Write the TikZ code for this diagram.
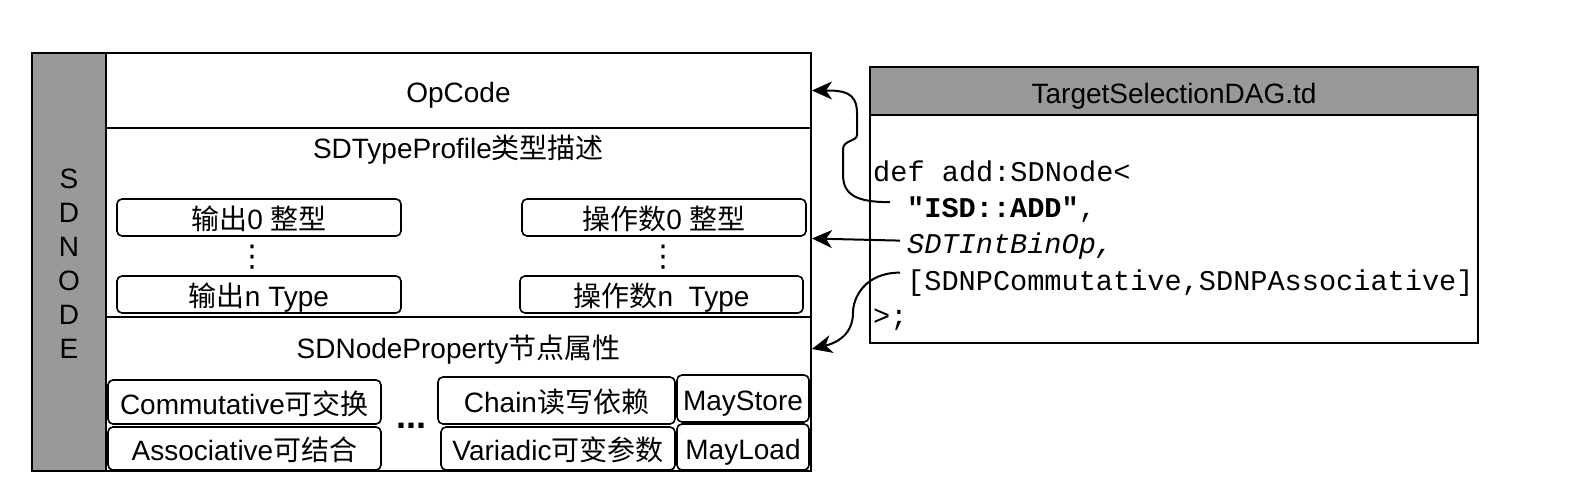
\documentclass[tikz,border=0pt]{standalone}
\usepackage{fontspec}
\setmainfont{Liberation Sans}
\setmonofont{Liberation Mono}
\newfontfamily\zhfont{Noto Sans CJK SC}
\newfontfamily\symfont{DejaVu Sans}
\newcommand{\zhtxt}[1]{{\zhfont #1}}
\usetikzlibrary{positioning,arrows.meta,calc}
\definecolor{headgray}{RGB}{153,153,153}

\begin{document}
\begin{tikzpicture}[
		x=1pt, y=-1pt,
		>={Stealth[length=20pt,width=18pt,inset=6pt]},
		every node/.style={
			inner sep=2pt,
			align=center,
			font=\fontsize{28}{34}\selectfont
		},
		lbl/.style={text height=25pt, text depth=1pt},
		frame/.style={draw, line width=2pt, rectangle},
		tag/.style={draw, rounded corners=5pt, line width=1.6pt, inner sep=1pt, lbl},
		vdotsnode/.style={inner sep=0pt, font=\symfont\fontsize{30}{34}\selectfont},
		code/.style={inner sep=0pt, anchor=base west, align=left,
			font=\ttfamily\fontsize{28.6}{34}\selectfont},
		arr/.style={->, line width=2pt}
		]
		
		\useasboundingbox (0,0) rectangle (1592,498);
		
		%--------------------------------------------------
		% SDNode
		%--------------------------------------------------
		
		\node[frame, fill=headgray, minimum width=74pt, minimum height=418pt] (sdnode) at (69,262)
		{};
		\node (sdnodetext) at (69,264) {S\\D\\N\\O\\D\\E};
		
		\node[frame, lbl, minimum width=705pt, minimum height=75pt] (opcode) at (458.5,90.5)
		{OpCode};
		
		\node[frame, minimum width=705pt, minimum height=189pt] (typeprof) at (458.5,222.5) {};
		
		\node[frame, minimum width=705pt, minimum height=154pt] (nodeprop) at (458.5,394) {};
		
		\node[lbl] (typetitle) at (458.5,146)
		{SDTypeProfile\zhtxt{类型描述}};
		
		\node[lbl] (proptitle) at (458.5,346)
		{SDNodeProperty\zhtxt{节点属性}};
		
		%--------------------------------------------------
		% Type profile
		%--------------------------------------------------
		
		\node[tag, minimum width=284pt, minimum height=37pt] (out0) at (259,217.5)
		{\zhtxt{输出}0 \zhtxt{整型}};
		
		\node[vdotsnode] (outdots) at (252,257) {⋮};
		
		\node[tag, minimum width=284pt, minimum height=37pt] (outn) at (259,294.5)
		{\zhtxt{输出}n Type};
		
		\node[tag, minimum width=284pt, minimum height=37pt] (opd0) at (664,217.5)
		{\zhtxt{操作数}0 \zhtxt{整型}};
		
		\node[vdotsnode] (opddots) at (663,257) {⋮};
		
		\node[tag, minimum width=283pt, minimum height=37pt] (opdn) at (661.5,294.5)
		{\zhtxt{操作数}n\ \ Type};
		
		%--------------------------------------------------
		% Node properties
		%--------------------------------------------------
		
		\node[tag, minimum width=273pt, minimum height=44pt] (comm) at (244.5,402)
		{Commutative\zhtxt{可交换}};
		
		\node[tag, minimum width=273pt, minimum height=43pt] (assoc) at (244.5,448.5)
		{Associative\zhtxt{可结合}};
		
		\node[font=\fontsize{36}{40}\selectfont\bfseries] (propdots) at (411,426) {...};
		
		\node[tag, minimum width=237pt, minimum height=47pt] (chain) at (556.5,400.5)
		{Chain\zhtxt{读写依赖}};
		
		\node[tag, minimum width=234pt, minimum height=43pt] (variadic) at (558,448.5)
		{Variadic\zhtxt{可变参数}};
		
		\node[tag, minimum width=132pt, minimum height=47pt] (maystore) at (743,398.5)
		{MayStore};
		
		\node[tag, minimum width=132pt, minimum height=46pt] (mayload) at (743,447)
		{MayLoad};
		
		%--------------------------------------------------
		% TargetSelectionDAG.td
		%--------------------------------------------------
		
		\node[frame, lbl, fill=headgray, minimum width=608pt, minimum height=48pt] (tdhead) at (1174,91)
		{TargetSelectionDAG.td};
		
		\node[frame, minimum width=608pt, minimum height=228pt] (tdbody) at (1174,229) {};
		
		\node[code] (defline) at (873,181) {def add:SDNode<};
		\node[code] (isd) at (907,217) {\textbf{"ISD::ADD"},};
		\node[code] (sdt) at (907,253) {\textit{SDTIntBinOp,}};
		\node[code] (sdnp) at (907,290) {[SDNPCommutative,SDNPAssociative]};
		\node[code] (closeline) at (873,325) {>;};
		
		%--------------------------------------------------
		% Connections
		%--------------------------------------------------
		
		\draw[arr] ([shift={(-17,-7)}]isd.west)
		.. controls +(-35,0) and +(0,20) .. ++(-47,-28)
		-- ++(0,-25)
		.. controls +(0,-9) and +(0,6) .. ++(14,-14)
		-- ++(0,-22)
		.. controls +(0,-22) and +(30,0) .. (opcode.east);
		
		\draw[arr] ([shift={(-7,-5)}]sdt.west) -- ([yshift=-16pt]typeprof.east);
		
		\draw[arr] ([shift={(-7,-10)}]sdnp.west)
		.. controls +(-35,0) and +(0,-15) .. ++(-47,40)
		.. controls +(0,25) and +(20,-5) .. ([yshift=-3pt]proptitle -| nodeprop.east);
		
	\end{tikzpicture}
\end{document}
